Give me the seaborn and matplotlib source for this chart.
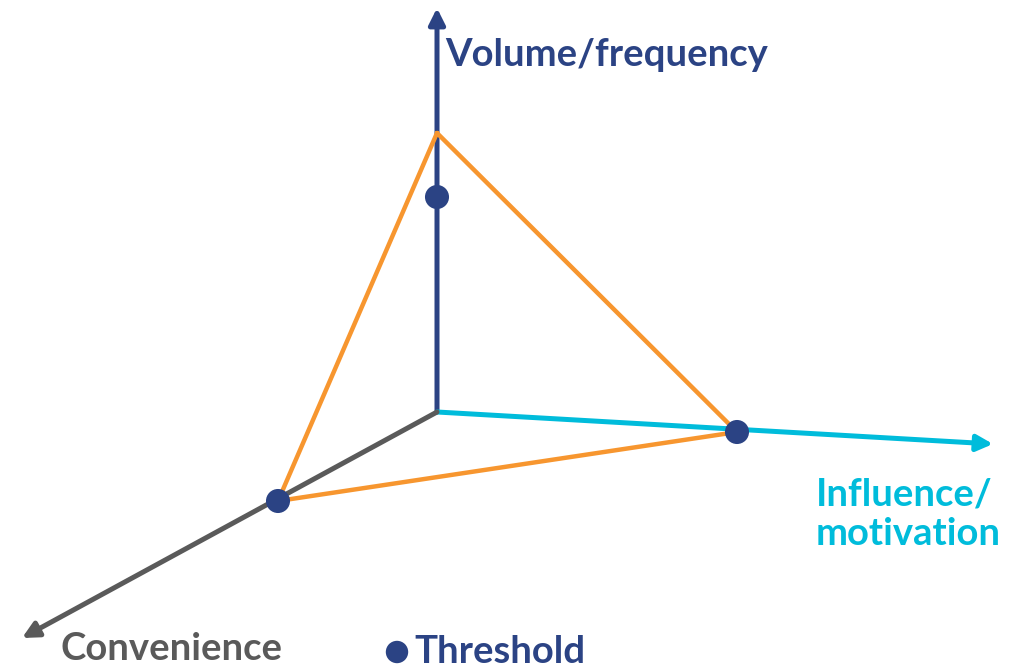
import matplotlib
matplotlib.use("Agg")
import matplotlib.pyplot as plt
import seaborn as sns
import pandas as pd

# ---- data (pixel-space diagram coordinates) ----
origin = (437, 412)
axis_names = ["Volume/frequency", "Influence/\nmotivation", "Convenience"]
axis_tip_x = [437, 993, 22]
axis_tip_y = [8, 444, 638]
axis_colors = ["#2B4384", "#00BCDB", "#5A5A5A"]

tri_x = [437, 737, 278, 437]
tri_y = [133, 432, 501, 133]

thresh_x = [437, 737, 278]
thresh_y = [197, 432, 501]

sns.set_theme(style="white")
plt.rcParams['font.family'] = ['Lato', 'DejaVu Sans']

fig = plt.figure(figsize=(10.19, 6.67), dpi=100)
ax = fig.add_axes([0, 0, 1, 1])
ax.set_xlim(0, 1019)
ax.set_ylim(667, 0)
ax.axis("off")

# axes arrows
for tx, ty, c in zip(axis_tip_x, axis_tip_y, axis_colors):
    ax.annotate("", xy=(tx, ty), xytext=origin,
                arrowprops=dict(arrowstyle="-|>", lw=3.6, color=c,
                                mutation_scale=24, shrinkA=0, shrinkB=0),
                zorder=2)

# orange triangle
tri = pd.DataFrame({"x": tri_x, "y": tri_y, "order": range(len(tri_x))})
sns.lineplot(data=tri, x="x", y="y", sort=False, estimator=None,
             color="#F7962F", lw=3.2, ax=ax, zorder=3)

# threshold points
pts = pd.DataFrame({"x": thresh_x, "y": thresh_y})
sns.scatterplot(data=pts, x="x", y="y", color="#2B4384", s=300,
                edgecolor="none", ax=ax, zorder=5)
ax.set_xlabel("")
ax.set_ylabel("")
ax.set_xlim(0, 1019)
ax.set_ylim(667, 0)

fs = 27.5
# labels
ax.text(445, 66, axis_names[0], color=axis_colors[0], fontsize=fs,
        fontweight="bold", ha="left", va="baseline")
ax.text(816, 545, axis_names[1], color=axis_colors[1], fontsize=fs,
        fontweight="bold", ha="left", va="baseline", linespacing=1.2)
ax.text(61, 660, axis_names[2], color=axis_colors[2], fontsize=fs,
        fontweight="bold", ha="left", va="baseline")

# legend-like marker
ax.scatter([397], [652], s=260, color="#2B4384", edgecolor="none", zorder=5)
ax.text(414, 663, "Threshold", color="#2B4384", fontsize=fs,
        fontweight="bold", ha="left", va="baseline")

fig.savefig("out.png", dpi=100)
